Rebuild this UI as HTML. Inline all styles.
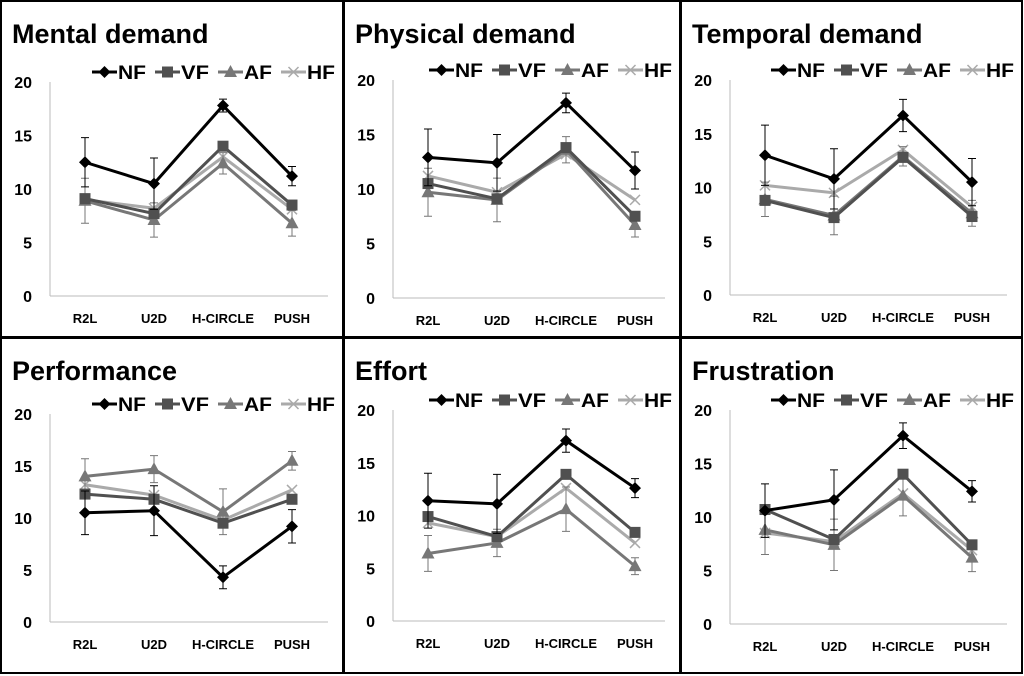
<!DOCTYPE html>
<html><head><meta charset="utf-8"><style>
body{margin:0;background:#fff;}
svg{display:block;font-family:"Liberation Sans",sans-serif;}
</style></head><body>
<svg id="fig" width="1024" height="676"></svg>
<script>
const categories=["R2L","U2D","H-CIRCLE","PUSH"];
const seriesNames=["NF","VF","AF","HF"];
const titles=["Mental demand","Physical demand","Temporal demand","Performance","Effort","Frustration"];
const yTicks=[0,5,10,15,20];
const mentalNF=[12.5,10.5,17.8,11.2],mentalVF=[9.1,7.7,14,8.5],mentalAF=[8.9,7.1,12.4,6.8],mentalHF=[9,8.2,13,8.1];
const physNF=[12.9,12.4,17.9,11.7],physVF=[10.5,9.1,13.8,7.5],physAF=[9.7,9,13.6,6.7],physHF=[11.2,9.7,13.2,9];
const tempNF=[13,10.8,16.7,10.5],tempVF=[8.8,7.2,12.8,7.3],tempAF=[8.9,7.4,12.9,7.6],tempHF=[10.2,9.5,13.5,8.2];
const perfNF=[10.5,10.7,4.3,9.2],perfVF=[12.3,11.8,9.5,11.8],perfAF=[14,14.7,10.6,15.5],perfHF=[13.2,12.2,9.8,12.7];
const effNF=[11.4,11.1,17.1,12.6],effVF=[9.9,8,13.9,8.4],effAF=[6.4,7.4,10.6,5.2],effHF=[9.3,8,12.6,7.4];
const fruNF=[10.6,11.6,17.6,12.4],fruVF=[10.7,7.9,14,7.4],fruAF=[8.8,7.4,12,6.2],fruHF=[8.5,7.7,12.2,6.9];
const errNF=[[2.3,2.4,0.6,0.9],[2.6,2.6,0.9,1.7],[2.8,2.8,1.5,2.2],[2.1,2.4,1.1,1.6],[2.6,2.8,1.1,0.9],[2.5,2.8,1.2,1.0]];
const errAF=[[2.1,1.6,1.0,1.2],[2.2,2.0,1.2,1.1],[1.6,1.8,0.9,1.2],[1.7,1.3,2.2,0.9],[1.7,1.3,2.1,0.8],[2.3,2.4,1.9,1.3]];
const panelData=[[mentalNF,mentalVF,mentalAF,mentalHF],[physNF,physVF,physAF,physHF],[tempNF,tempVF,tempAF,tempHF],[perfNF,perfVF,perfAF,perfHF],[effNF,effVF,effAF,effHF],[fruNF,fruVF,fruAF,fruHF]];
const colors=["#000","#505050","#777","#aaa"];
const NS="http://www.w3.org/2000/svg";
const svg=document.getElementById("fig");
function el(tag,attrs,parent){const e=document.createElementNS(NS,tag);for(const k in attrs)e.setAttribute(k,attrs[k]);(parent||svg).appendChild(e);return e;}
const panels=[{x:0,y:0,w:343,h:337,t:82,b:296},{x:343,y:0,w:337,h:337,t:80,b:298},{x:680,y:0,w:342,h:337,t:80,b:295},
{x:0,y:337,w:343,h:336,t:77,b:285},{x:343,y:337,w:337,h:336,t:73,b:284},{x:680,y:337,w:342,h:336,t:73,b:287}];
function marker(g,k,x,y,c){
 if(k==0){const m=el("path",{d:`M${x} ${y-6}L${x+6} ${y}L${x} ${y+6}L${x-6} ${y}Z`,fill:c},g);}
 else if(k==1){const m=el("rect",{x:x-5.5,y:y-5.5,width:11,height:11,fill:c},g);}
 else if(k==2){const m=el("path",{d:`M${x} ${y-7}L${x+6.5} ${y+5}L${x-6.5} ${y+5}Z`,fill:c},g);}
 else {const m=el("path",{d:`M${x-5} ${y-5}L${x+5} ${y+5}M${x+5} ${y-5}L${x-5} ${y+5}`,stroke:c,"stroke-width":1.5},g);}
}
panels.forEach((p,pi)=>{
 const g=el("g",{transform:`translate(${p.x},${p.y})`});
 
 
 el("rect",{x:1,y:1,width:p.w-1,height:p.h-1,fill:"none",stroke:"#000","stroke-width":2},g);
 const tt=el("text",{x:12,y:43,"font-size":27,"font-weight":"bold"},g);tt.textContent=titles[pi];
 
 const ax=50,axR=p.w-15;
 const Y=v=>p.b-(v/20)*(p.b-p.t);
 const X=i=>ax+35+i*69;
 el("line",{x1:ax,y1:p.t,x2:ax,y2:p.b,stroke:"#bbb"},g);
 el("line",{x1:ax,y1:p.b,x2:axR,y2:p.b,stroke:"#bbb"},g);
 yTicks.forEach(v=>{const t=el("text",{x:32,y:Y(v)+6,"font-size":16,"font-weight":"bold","text-anchor":"end"},g);t.textContent=v;
  });
 categories.forEach((c,i)=>{const t=el("text",{x:X(i),y:p.b+27,"font-size":13,"font-weight":"bold","text-anchor":"middle"},g);t.textContent=c;
  });
 const lg=el("g",{},g);
 const ly=p.t-10;
 const lstart=p.w-6-3*63-56;
 seriesNames.forEach((s,k)=>{const lx=lstart+k*63;
  el("line",{x1:lx,y1:ly,x2:lx+25,y2:ly,stroke:colors[k],"stroke-width":3},lg);
  marker(lg,k,lx+12.5,ly,colors[k]);
  const t=el("text",{x:lx+26,y:ly+7,"font-size":19,"font-weight":"bold","textLength":28,"lengthAdjust":"spacingAndGlyphs"},lg);t.textContent=s;
  });
 const data=panelData[pi];
 [3,2,1,0].forEach(k=>{
  const vals=data[k];
  const err=k==0?errNF[pi]:(k==2?errAF[pi]:null);
  if(err)vals.forEach((v,i)=>{const x=X(i);
   el("path",{d:`M${x} ${Y(v+err[i])}V${Y(v-err[i])}M${x-4} ${Y(v+err[i])}h8M${x-4} ${Y(v-err[i])}h8`,stroke:colors[k],"stroke-width":1,fill:"none"},g);});
  const ln=el("polyline",{points:vals.map((v,i)=>X(i)+","+Y(v)).join(" "),fill:"none",stroke:colors[k],"stroke-width":3},g);
  
  vals.forEach((v,i)=>marker(g,k,X(i),Y(v),colors[k]));
 });
});
</script>
</body></html>
